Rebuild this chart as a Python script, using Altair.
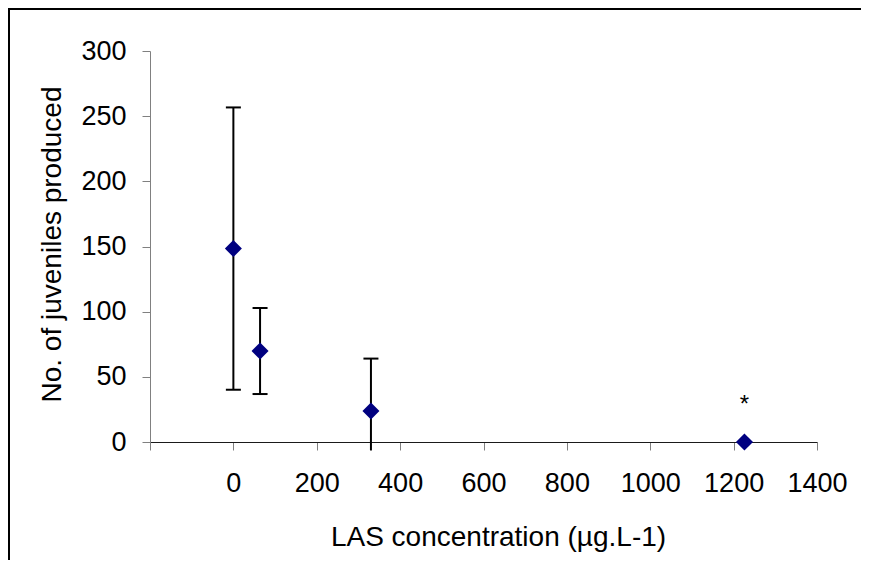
import altair as alt
import pandas as pd

# data
concentration = [0, 64, 330, 1226]
juveniles = [148.4, 69.8, 23.8, 0.0]
err_low = [40.1, 36.8, -6.5, 0.0]
err_high = [256.7, 102.8, 64.0, 0.0]
low_cap = [True, True, False, False]
has_bar = [True, True, True, False]
marks = ["", "", "", "*"]

x_ticks = [-200, 0, 200, 400, 600, 800, 1000, 1200, 1400]
y_ticks = [0, 50, 100, 150, 200, 250, 300]

df = pd.DataFrame({
    "conc": concentration,
    "juv": juveniles,
    "lo": err_low,
    "hi": err_high,
    "lowcap": low_cap,
    "bar": has_bar,
    "mark": marks,
})

FONT = "Liberation Sans"
W, H = 667, 391

xs = alt.Scale(domain=[-200, 1400], nice=False, zero=False)
ys = alt.Scale(domain=[0, 300], nice=False, zero=False)

x_axis = alt.Axis(
    values=x_ticks, format="d",
    labelExpr="datum.value == -200 ? '' : datum.label",
    labelOverlap=False, labelFlush=False,
    title="LAS concentration (µg.L-1)",
    grid=False, domainColor="#1a1a1a", domainWidth=1,
    tickColor="#808080", tickSize=8, tickWidth=1,
    labelFont=FONT, labelFontSize=27, labelColor="black",
    labelBaseline="alphabetic", labelPadding=41,
    titleFont=FONT, titleFontSize=28, titleFontWeight="normal", titleColor="black",
    titleX=348, titleY=103, titleBaseline="alphabetic", titleAlign="center",
)
y_axis = alt.Axis(
    values=y_ticks, format="d", labelOverlap=False, labelFlush=False,
    title="No. of juveniles produced",
    grid=False, domainColor="#808080", domainWidth=1,
    tickColor="#808080", tickSize=8, tickWidth=1,
    labelFont=FONT, labelFontSize=27, labelColor="black", labelPadding=16,
    titleFont=FONT, titleFontSize=28, titleFontWeight="normal", titleColor="black",
    titleX=-90, titleY=193, titleAngle=270, titleBaseline="alphabetic", titleAlign="center",
)

base = alt.Chart(df)

points = base.mark_point(shape="diamond", filled=True, size=290, color="#000080", opacity=1).encode(
    x=alt.X("conc:Q", scale=xs, axis=x_axis),
    y=alt.Y("juv:Q", scale=ys, axis=y_axis),
)

bars = base.transform_filter("datum.bar").mark_rule(color="black", strokeWidth=2).encode(
    x="conc:Q", y="lo:Q", y2="hi:Q"
)
top_caps = base.transform_filter("datum.bar").mark_tick(
    orient="horizontal", color="black", size=15, thickness=2, opacity=1
).encode(x="conc:Q", y="hi:Q")
low_caps = base.transform_filter("datum.lowcap").mark_tick(
    orient="horizontal", color="black", size=15, thickness=2, opacity=1
).encode(x="conc:Q", y="lo:Q")

stars = base.mark_text(font=FONT, fontSize=24, color="black", baseline="alphabetic", dy=-30).encode(
    x="conc:Q", y="juv:Q", text="mark:N"
)

one = pd.DataFrame({"k": [0]})
frame_left = alt.Chart(one).mark_rule(color="black", strokeWidth=2).encode(
    x=alt.value(-141), y=alt.value(-43), y2=alt.value(H + 130)
)
frame_top = alt.Chart(one).mark_rule(color="black", strokeWidth=2).encode(
    x=alt.value(-142), x2=alt.value(W + 60), y=alt.value(-42)
)

chart = alt.layer(frame_left, frame_top, bars, top_caps, low_caps, points, stars).properties(
    width=W, height=H,
    autosize=alt.AutoSizeParams(type="none"),
    padding={"left": 142, "top": 43, "right": 44, "bottom": 118},
    background="white",
).configure_view(stroke=None)

chart.save("out.html", embed_options={"renderer": "svg", "actions": False})
